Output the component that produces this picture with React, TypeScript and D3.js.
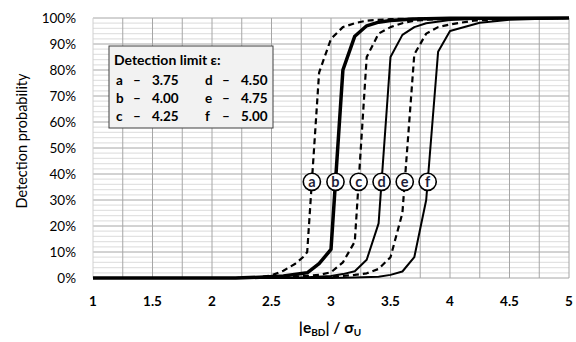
import React from "react";
import * as d3 from "d3";

const xTicks = [1, 1.5, 2, 2.5, 3, 3.5, 4, 4.5, 5];
const yTicks = [0, 10, 20, 30, 40, 50, 60, 70, 80, 90, 100];

const curveA: [number, number][] = [[1, 0], [2.2, 0], [2.3, 0.2], [2.4, 0.4], [2.5, 1], [2.6, 2.8], [2.7, 5.5], [2.77, 8.2], [2.8, 10], [2.9, 79], [3.0, 92], [3.1, 96.5], [3.2, 98], [3.3, 99], [3.5, 99.6], [4, 99.9], [5, 100]];
const curveB: [number, number][] = [[1, 0], [2.2, 0], [2.4, 0.3], [2.6, 0.8], [2.8, 2], [2.9, 5.5], [3.0, 11], [3.1, 80], [3.2, 93], [3.3, 97], [3.4, 98.4], [3.5, 99], [3.7, 99.6], [4.0, 99.9], [5, 100]];
const curveC: [number, number][] = [[1, 0], [2.4, 0], [2.6, 0.3], [2.8, 0.8], [2.9, 1.2], [3.0, 2.2], [3.1, 6], [3.2, 14], [3.3, 85], [3.4, 94], [3.5, 96.5], [3.6, 98], [3.7, 99], [3.9, 99.6], [4.2, 99.9], [5, 100]];
const curveD: [number, number][] = [[1, 0], [2.6, 0], [2.8, 0.3], [3.0, 0.8], [3.1, 1.5], [3.2, 2.6], [3.3, 7], [3.4, 21], [3.5, 85], [3.6, 93.5], [3.7, 96.5], [3.8, 98], [4.0, 99.2], [4.3, 99.8], [5, 100]];
const curveE: [number, number][] = [[1, 0], [2.8, 0], [3.0, 0.4], [3.2, 1.2], [3.3, 1.8], [3.4, 3.5], [3.5, 8], [3.6, 25], [3.7, 86], [3.8, 94], [3.9, 96.5], [4.0, 97.5], [4.2, 99], [4.5, 99.7], [5, 100]];
const curveF: [number, number][] = [[1, 0], [3.0, 0], [3.2, 0.2], [3.4, 0.5], [3.5, 1.2], [3.6, 2.5], [3.7, 8], [3.8, 30], [3.9, 87], [4.0, 95], [4.25, 98.2], [4.5, 99.3], [5, 100]];

const seriesNames = ["a", "b", "c", "d", "e", "f"];
const seriesData = [curveA, curveB, curveC, curveD, curveE, curveF];
const limitValues = ["3.75", "4.00", "4.25", "4.50", "4.75", "5.00"];
const labelLevel = 37;

const styles = [
  { w: 2.2, dash: "6,4" },
  { w: 3.5, dash: "" },
  { w: 2.2, dash: "6,4" },
  { w: 2, dash: "" },
  { w: 2.2, dash: "6,4" },
  { w: 2, dash: "" },
];

const W = 576, H = 342;
const FONT = "Lato, 'Open Sans', sans-serif";

function xAt(data: [number, number][], p: number): number {
  for (let i = 1; i < data.length; i++) {
    const [x0, y0] = data[i - 1];
    const [x1, y1] = data[i];
    if (y0 <= p && y1 >= p && y1 !== y0) return x0 + ((p - y0) / (y1 - y0)) * (x1 - x0);
  }
  return data[data.length - 1][0];
}

export default function App() {
  const x = d3.scaleLinear().domain([1, 5]).range([93, 569]);
  const y = d3.scaleLinear().domain([0, 100]).range([278, 18]);
  const line = d3.line<[number, number]>().x((d) => x(d[0])).y((d) => y(d[1]));
  const minorY = d3.range(0, 101, 2).filter((v) => v % 10 !== 0);
  const vx = d3.range(1.25, 5.01, 0.25);

  return (
    <svg width={W} height={H} style={{ position: "absolute", left: 0, top: 0, background: "#fff" }} fontFamily={FONT}>
      <rect x={0} y={0} width={W} height={H} fill="#fff" />
      {minorY.map((v) => (
        <line key={"m" + v} x1={x(1)} x2={x(5)} y1={y(v)} y2={y(v)} stroke="#e2e2e2" strokeWidth={1.2} />
      ))}
      {yTicks.map((v) => (
        <line key={"h" + v} x1={x(1)} x2={x(5)} y1={y(v)} y2={y(v)} stroke="#a6a6a6" strokeWidth={1} />
      ))}
      {vx.map((v) => (
        <line key={"v" + v} x1={x(v)} x2={x(v)} y1={y(100)} y2={y(0)} stroke="#a6a6a6" strokeWidth={1} />
      ))}
      <line x1={x(1)} x2={x(1)} y1={y(100)} y2={y(0)} stroke="#d0d0d0" strokeWidth={1} />

      {seriesData.map((d, i) => (
        <path key={"s" + i} d={line(d) || ""} fill="none" stroke="#000" strokeWidth={styles[i].w} strokeDasharray={styles[i].dash} strokeLinejoin="round" />
      ))}

      {seriesData.map((d, i) => {
        const cx = x(xAt(d, labelLevel));
        const cy = y(labelLevel);
        return (
          <g key={"l" + i}>
            <circle cx={cx} cy={cy} r={8.6} fill="#fff" stroke="#000" strokeWidth={1.6} />
            <text x={cx} y={cy + 5} textAnchor="middle" fontSize={14.5} fontWeight="bold" fill="#1f1f3a">{seriesNames[i]}</text>
          </g>
        );
      })}

      {yTicks.map((v) => (
        <text key={"yt" + v} x={76} y={y(v) + 4.7} textAnchor="end" fontSize={13.5} fill="#000">{v + "%"}</text>
      ))}
      {xTicks.map((v) => (
        <text key={"xt" + v} x={x(v)} y={306} textAnchor="middle" fontSize={13.5} fontWeight="bold" fill="#000">{String(v)}</text>
      ))}
      <text transform="translate(27,141) rotate(-90)" textAnchor="middle" fontSize={14.5} fill="#000">Detection probability</text>
      <text x={330} y={333} textAnchor="middle" fontSize={15.5} fontWeight="bold" fill="#000">
        |e<tspan fontSize={10} dy={3}>BD</tspan><tspan dy={-3}>| / σ</tspan><tspan fontSize={10} dy={3}>U</tspan>
      </text>

      <g>
        <rect x={109} y={46} width={164} height={82} fill="#f2f2f2" stroke="#404040" strokeWidth={1} />
        <text x={114} y={65} fontSize={14} fontWeight="bold" fill="#000">Detection limit ε:</text>
        {seriesNames.map((n, i) => {
          const col = i < 3 ? 0 : 1;
          const row = i % 3;
          const bx = col === 0 ? 116 : 205;
          const by = 84.5 + row * 18.3;
          return (
            <g key={"lg" + i} fontSize={13.5} fontWeight="bold" fill="#000">
              <text x={bx}  y={by}>{n}</text>
              <text x={bx + 21} y={by} textAnchor="middle">–</text>
              <text x={bx + 36} y={by}>{limitValues[i]}</text>
            </g>
          );
        })}
      </g>
    </svg>
  );
}
